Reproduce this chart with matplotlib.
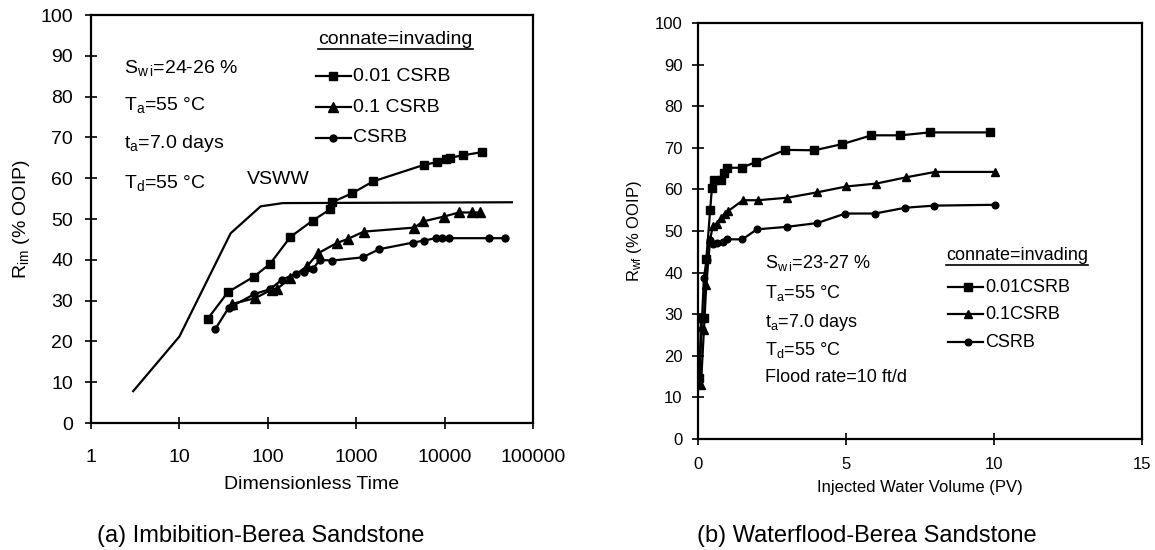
import matplotlib
matplotlib.use("Agg")
import matplotlib.pyplot as plt
from matplotlib.lines import Line2D

# ---------------- data: imbibition (left) ----------------
vsww_t = [3, 10, 38, 83, 148, 57700]
vsww_r = [7.8, 21.2, 46.5, 53.1, 53.9, 54.1]

imb_001_t = [21, 35.5, 70, 106, 180, 321, 510, 530, 900, 1546, 5900, 8100, 10350, 11400, 16000, 26700]
imb_001_r = [25.6, 32.1, 35.9, 39.0, 45.6, 49.6, 52.4, 54.1, 56.3, 59.2, 63.3, 63.9, 64.7, 65.0, 65.6, 66.4]

imb_01_t = [39.5, 72, 111, 126, 180, 277, 371, 601, 802, 1216, 4560, 5690, 9860, 14500, 20300, 25400]
imb_01_r = [29.2, 30.6, 32.7, 32.8, 35.5, 38.4, 41.6, 44.1, 45.1, 46.9, 47.9, 49.4, 50.6, 51.6, 51.6, 51.6]

imb_c_t = [25.4, 36, 40, 70.5, 106, 144, 208, 257, 321, 389, 530, 1180, 1820, 4345, 5800, 7900, 9400, 11200, 32000, 48500]
imb_c_r = [23.0, 28.2, 28.7, 31.6, 32.8, 35.1, 36.6, 37.1, 37.7, 40.0, 39.8, 40.6, 42.6, 44.2, 44.7, 45.3, 45.3, 45.3, 45.3, 45.3]

# ---------------- data: waterflood (right) ----------------
wf_001_pv = [0.05, 0.10, 0.20, 0.28, 0.41, 0.47, 0.54, 0.78, 0.88, 0.97, 1.47, 1.96, 2.95, 3.93, 4.88, 5.86, 6.84, 7.83, 9.85]
wf_001_r = [14.6, 29.0, 29.0, 43.2, 55.0, 60.3, 62.2, 62.2, 64.0, 65.2, 65.2, 66.6, 69.5, 69.4, 70.9, 73.0, 73.0, 73.7, 73.7]

wf_01_pv = [0.10, 0.20, 0.28, 0.41, 0.50, 0.63, 0.79, 0.90, 1.02, 1.52, 2.03, 3.02, 4.03, 5.01, 6.02, 7.03, 8.01, 10.03]
wf_01_r = [13.0, 26.2, 37.0, 48.0, 51.2, 51.8, 53.2, 54.2, 54.8, 57.4, 57.4, 58.0, 59.3, 60.7, 61.4, 62.9, 64.2, 64.2]

wf_c_pv = [0.05, 0.12, 0.20, 0.29, 0.41, 0.50, 0.63, 0.85, 0.99, 1.50, 1.99, 3.00, 4.02, 4.98, 5.98, 7.01, 7.98, 10.02]
wf_c_r = [14.0, 26.5, 38.8, 43.0, 47.8, 46.8, 47.2, 47.4, 48.0, 48.0, 50.4, 51.0, 51.9, 54.2, 54.2, 55.6, 56.1, 56.3]

left_xticks = [1, 10, 100, 1000, 10000, 100000]
left_xticklabels = ["1", "10", "100", "1000", "10000", "100000"]
yticks = list(range(0, 101, 10))
right_xticks = [0, 5, 10, 15]

left_notes = [r"$\mathregular{S_{w\,i}}$=24-26 %", r"$\mathregular{T_a}$=55 °C",
              r"$\mathregular{t_a}$=7.0 days", r"$\mathregular{T_d}$=55 °C"]
right_notes = [r"$\mathregular{S_{w\,i}}$=23-27 %", r"$\mathregular{T_a}$=55 °C",
               r"$\mathregular{t_a}$=7.0 days", r"$\mathregular{T_d}$=55 °C", "Flood rate=10 ft/d"]
left_leg = ["0.01 CSRB", "0.1 CSRB", "CSRB"]
right_leg = ["0.01CSRB", "0.1CSRB", "CSRB"]

NARROW = ["Liberation Sans Narrow", "Liberation Sans", "DejaVu Sans"]
REG = ["Liberation Sans", "DejaVu Sans"]
FS_L = 14

fig = plt.figure(figsize=(11.55, 5.5), dpi=100)
axL = fig.add_axes([91 / 1155, 127 / 550, 442 / 1155, 408 / 550])
axR = fig.add_axes([698 / 1155, 111 / 550, 444 / 1155, 416 / 550])

K = "black"
mk = dict(color=K, lw=1.6)

# ---- left panel ----
axL.plot(vsww_t, vsww_r, **mk)
axL.plot(imb_001_t, imb_001_r, marker="s", ms=6, **mk)
axL.plot(imb_01_t, imb_01_r, marker="^", ms=6.5, **mk)
axL.plot(imb_c_t, imb_c_r, marker="o", ms=5, **mk)
axL.set_xscale("log")
axL.set_xlim(1, 100000)
axL.set_ylim(0, 100)
axL.set_xticks(left_xticks)
axL.set_xticklabels(left_xticklabels)
axL.minorticks_off()
axL.set_yticks(yticks)
axL.tick_params(direction="inout", length=8, width=1.2, labelsize=FS_L)
axL.tick_params(axis="x", pad=15)
axL.tick_params(axis="y", pad=9)
for lab in axL.get_xticklabels() + axL.get_yticklabels():
    lab.set_family(NARROW)
axL.set_xlabel("Dimensionless Time", fontsize=FS_L, family=NARROW, labelpad=7)
axL.set_ylabel(r"$\mathregular{R_{im}}$ (% OOIP)", fontsize=FS_L, family=NARROW, labelpad=6)

for i, s in enumerate(left_notes):
    axL.text(0.074, [0.870, 0.779, 0.684, 0.588][i], s, transform=axL.transAxes,
             fontsize=FS_L, family=NARROW, va="center", ha="left")
axL.text(0.353, 0.596, "VSWW", transform=axL.transAxes, fontsize=FS_L,
         family=NARROW, va="center", ha="left")

titleL = axL.text(0.514, 0.941, "connate=invading", transform=axL.transAxes,
                  fontsize=FS_L, family=NARROW, va="center", ha="left")
for row, (lab, m, ms) in enumerate(zip(left_leg, ["s", "^", "o"], [6, 6.5, 5])):
    yy = [0.850, 0.774, 0.699][row]
    axL.add_line(Line2D([0.510, 0.589], [yy, yy], transform=axL.transAxes, **mk))
    axL.add_line(Line2D([0.548], [yy], transform=axL.transAxes, marker=m, ms=ms, color=K))
    axL.text(0.593, yy, lab, transform=axL.transAxes, fontsize=FS_L, family=NARROW,
             va="center", ha="left")

# ---- right panel ----
axR.plot(wf_001_pv, wf_001_r, marker="s", ms=5.5, **mk)
axR.plot(wf_01_pv, wf_01_r, marker="^", ms=6, **mk)
axR.plot(wf_c_pv, wf_c_r, marker="o", ms=4.8, **mk)
axR.set_xlim(0, 15)
axR.set_ylim(0, 100)
axR.set_xticks(right_xticks)
axR.set_yticks(yticks)
axR.tick_params(direction="inout", length=8, width=1.2, labelsize=12)
axR.tick_params(axis="x", pad=9)
axR.tick_params(axis="y", pad=7)
for lab in axR.get_xticklabels() + axR.get_yticklabels():
    lab.set_family(REG)
axR.set_xlabel("Injected Water Volume (PV)", fontsize=12, family=REG, labelpad=6)
axR.set_ylabel(r"$\mathregular{R_{wf}}$ (% OOIP)", fontsize=12, family=REG, labelpad=8)

for i, s in enumerate(right_notes):
    axR.text(0.151, [0.423, 0.351, 0.281, 0.214, 0.147][i], s, transform=axR.transAxes,
             fontsize=13, family=REG, va="center", ha="left")

titleR = axR.text(0.559, 0.44, "connate=invading", transform=axR.transAxes,
                  fontsize=13, family=REG, va="center", ha="left")
for row, (lab, m, ms) in enumerate(zip(right_leg, ["s", "^", "o"], [5.5, 6, 4.8])):
    yy = [0.365, 0.300, 0.233][row]
    axR.add_line(Line2D([0.563, 0.642], [yy, yy], transform=axR.transAxes, **mk))
    axR.add_line(Line2D([0.608], [yy], transform=axR.transAxes, marker=m, ms=ms, color=K))
    axR.text(0.646, yy, lab, transform=axR.transAxes, fontsize=13, family=REG,
             va="center", ha="left")

for ax in (axL, axR):
    for sp in ax.spines.values():
        sp.set_linewidth(1.6)

# captions
fig.text(97 / 1155, 8 / 550, "(a) Imbibition-Berea Sandstone", fontsize=17,
         family=REG, ha="left", va="baseline")
fig.text(697 / 1155, 8 / 550, "(b) Waterflood-Berea Sandstone", fontsize=17,
         family=REG, ha="left", va="baseline")

# underline the legend titles
fig.canvas.draw()
r = fig.canvas.get_renderer()
for t in (titleL, titleR):
    bb = t.get_window_extent(renderer=r)
    yline = bb.y0 - 1
    fig.add_artist(Line2D([bb.x0, bb.x1], [yline, yline], transform=None, color=K, lw=1.2))

fig.savefig("out.png", dpi=100)
